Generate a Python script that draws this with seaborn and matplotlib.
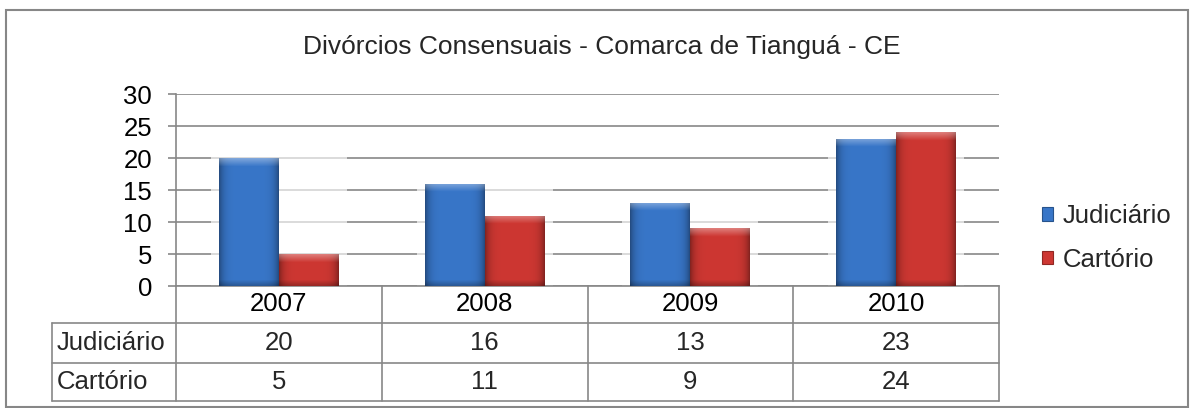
import numpy as np
import pandas as pd
import matplotlib
matplotlib.use("Agg")
import matplotlib.pyplot as plt
import seaborn as sns
from matplotlib.patches import Rectangle, Patch

# ---------------- data ----------------
anos = ["2007", "2008", "2009", "2010"]
series = ["Judiciário", "Cartório"]
judiciario = [20, 16, 13, 23]
cartorio = [5, 11, 9, 24]
titulo = "Divórcios Consensuais - Comarca de Tianguá - CE"
yticks = [0, 5, 10, 15, 20, 25, 30]

# ---------------- style ----------------
sns.set_theme(style="white")
plt.rcParams["font.family"] = ["Liberation Sans", "DejaVu Sans"]
GRID = "#878787"
colors = ["#3876C8", "#CD3732"]
FS = 18.5

W, H = 1195, 408
fig = plt.figure(figsize=(W / 100, H / 100), dpi=100)
L, R, T, B = 176, 999, 94, 286
ax = fig.add_axes([L / W, 1 - B / H, (R - L) / W, (B - T) / H])

df = pd.DataFrame({
    "Ano": anos * 2,
    "Série": [series[0]] * len(anos) + [series[1]] * len(anos),
    "Valor": judiciario + cartorio,
})

sns.barplot(data=df, x="Ano", y="Valor", hue="Série", palette=colors,
            saturation=1, width=0.583, gap=0, ax=ax, zorder=3,
            edgecolor="none", linewidth=0, legend=False)

ax.set_xlim(-0.5, len(anos) - 0.5)
ax.set_ylim(yticks[0], yticks[-1])
ax.set_yticks(yticks)
ax.set_xlabel("")
ax.set_ylabel("")
ax.grid(axis="y", color=GRID, lw=1.2)
ax.grid(axis="x", visible=False)
ax.set_axisbelow(True)
for s in ["top", "right"]:
    ax.spines[s].set_visible(False)
for s in ["left", "bottom"]:
    ax.spines[s].set_color(GRID)
    ax.spines[s].set_linewidth(1.2)
ax.tick_params(axis="y", length=5.8, width=1.2, color=GRID, pad=11.5,
               labelsize=FS, labelcolor="black", left=True)
ax.tick_params(axis="x", length=0, pad=4, labelsize=FS, labelcolor="black")

# ---------- bar effects: group halo + bevel shading ----------
bars = [p for c in ax.containers for p in c]
px_x = (len(anos)) / (R - L)
px_y = (yticks[-1] - yticks[0]) / (B - T)
for i in range(len(anos)):
    grp = [p for p in bars if abs(p.get_x() + p.get_width() / 2 - i) < 0.5]
    x0 = min(p.get_x() for p in grp) - 8 * px_x
    x1 = max(p.get_x() + p.get_width() for p in grp) + 8 * px_x
    top = max(p.get_height() for p in grp) + 2 * px_y
    ax.add_patch(Rectangle((x0, 0), x1 - x0, top, facecolor="white",
                           alpha=0.65, edgecolor="none", zorder=2))

for p in bars:
    base = np.array(matplotlib.colors.to_rgb(p.get_facecolor()))
    x, w, h = p.get_x(), p.get_width(), p.get_height()
    nx, ny = 60, max(int(h / px_y), 2)
    u = np.linspace(0, 1, nx)
    v = np.linspace(0, 1, ny)[:, None]
    shade = 1.0 - 0.35 * (np.abs(2 * u - 1) ** 6)[None, :]
    shade = shade * (1 - 0.25 * np.clip((v * h / px_y - (h / px_y - 6)) / 6, 0, 1))
    top_hl = np.clip(1 - v * h / px_y / 8, 0, 1) * 0.35
    img = base[None, None, :] * shade[..., None]
    img = img + (1 - img) * top_hl[..., None]
    img = np.clip(img, 0, 1)
    im = ax.imshow(img, extent=[x, x + w, 0, h], aspect="auto",
                   origin="upper", zorder=3.5, interpolation="bilinear")
    im.set_clip_path(p)

ax.set_xlim(-0.5, len(anos) - 0.5)
ax.set_ylim(yticks[0], yticks[-1])

# ---------------- legend ----------------
handles = [Patch(facecolor=c, edgecolor=np.array(matplotlib.colors.to_rgb(c)) * 0.7,
                 linewidth=0.8) for c in colors]
leg = ax.legend(handles, series, loc="center left",
                bbox_to_anchor=(1.052, (B - 238) / (B - T)),
                frameon=False, fontsize=FS, handlelength=0.45,
                handleheight=0.45, handletextpad=0.35, labelspacing=0.75,
                borderaxespad=0, borderpad=0)

# ---------------- data table ----------------
def yf(px):
    return (B - px) / (B - T)

xa = ax.get_xaxis_transform()
rows_px = [323, 363, 401]
lbl_left = (52 - L) / (R - L)
lk = dict(color=GRID, lw=1.2, clip_on=False, zorder=5)
for ypx in rows_px:
    ax.plot([lbl_left, 1], [yf(ypx)] * 2, transform=ax.transAxes, **lk)
ax.plot([0, 0], [0, yf(rows_px[-1])], transform=ax.transAxes, **lk)
ax.plot([lbl_left, lbl_left], [yf(rows_px[0]), yf(rows_px[-1])],
        transform=ax.transAxes, **lk)
for i in range(len(anos)):
    ax.plot([i + 0.5] * 2, [0, yf(rows_px[-1])], transform=xa, **lk)

table_rows = [(series[0], judiciario), (series[1], cartorio)]
for r, (name, vals) in enumerate(table_rows):
    yc = yf((rows_px[r] + rows_px[r + 1]) / 2)
    ax.text(lbl_left + 5 / (R - L), yc, name, transform=ax.transAxes,
            ha="left", va="center", fontsize=FS, clip_on=False)
    for i, v in enumerate(vals):
        ax.text(i, yc, str(v), transform=xa, ha="center", va="center",
                fontsize=FS, clip_on=False)

# ---------------- title & outer border ----------------
fig.text(602 / W, 1 - 47 / H, titulo, ha="center", va="center", fontsize=19)
fig.add_artist(Rectangle((6 / W, 1 - 407 / H), (1188 - 6) / W, (407 - 10) / H,
                         transform=fig.transFigure, fill=False,
                         edgecolor=GRID, lw=1.5))

fig.savefig("out.png", dpi=100, facecolor="white")
